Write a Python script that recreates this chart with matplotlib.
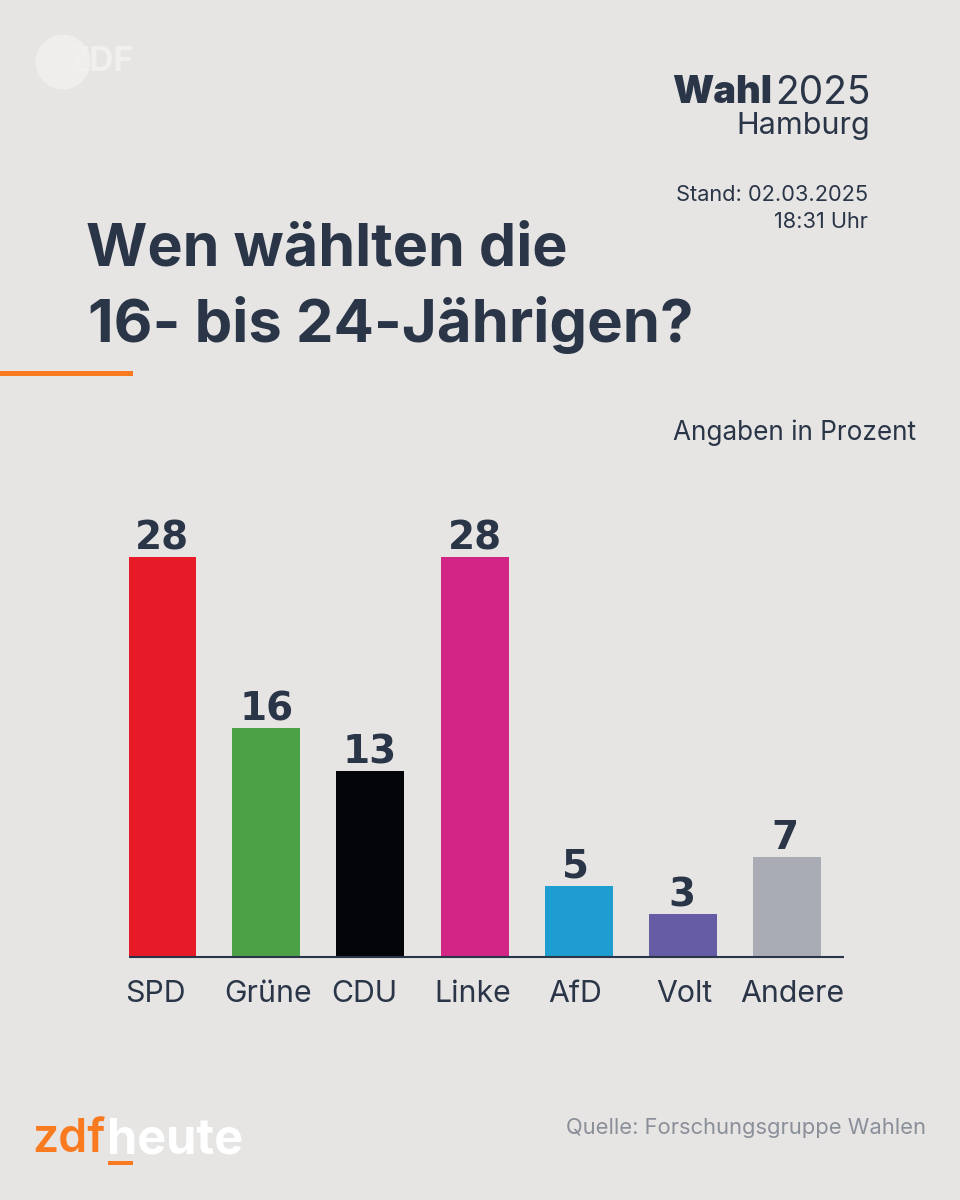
import matplotlib
matplotlib.use("Agg")
import matplotlib.pyplot as plt
from matplotlib.patches import Circle, Rectangle

parties = ["SPD", "Grüne", "CDU", "Linke", "AfD", "Volt", "Andere"]
values = [28, 16, 13, 28, 5, 3, 7]
colors = ["#E71A28", "#4CA147", "#040508", "#D22585", "#1E9DD1", "#655CA5", "#A9ACB4"]
label_centres_px = [155, 268, 364, 473, 575, 684, 792]
value_nudge_px = [0, 0, -1, 0, -3, -1, -2]

BG = "#E6E5E4"
INK = "#2A3547"
ORANGE = "#F97A1F"
GREY = "#8A8F99"
W, H = 960, 1200
plt.rcParams["font.family"] = ["Inter", "DejaVu Sans"]

fig = plt.figure(figsize=(W / 100, H / 100), dpi=100, facecolor=BG)

# pixel overlay
ov = fig.add_axes([0, 0, 1, 1], zorder=0)
ov.set_xlim(0, W)
ov.set_ylim(H, 0)
ov.axis("off")

# bars
SP = 104.17
ax = fig.add_axes([129 / W, (H - 957) / H, 715 / W, 500 / H], zorder=1)
ax.patch.set_alpha(0)
ax.bar(range(len(values)), values, width=68 / SP, color=colors)
ax.set_xlim(-33 / SP, (844 - 162) / SP)
ax.set_ylim(0, 35)
for s in ["top", "left", "right"]:
    ax.spines[s].set_visible(False)
ax.spines["bottom"].set_color(INK)
ax.spines["bottom"].set_linewidth(1.5)
ax.spines["bottom"].set_capstyle("butt")
ax.set_yticks([])
ax.set_xticks([])
for i, v in enumerate(values):
    ax.annotate(str(v), (i, v), xytext=(value_nudge_px[i] * 0.72, 0), textcoords="offset points",
                ha="center", va="bottom", fontsize=28, fontweight="bold", color=INK,
                family=["DejaVu Sans"])
for name, x in zip(parties, label_centres_px):
    ov.text(x, 994, name, ha="center", va="center", fontsize=21.8, color=INK)

# title
ov.text(86, 250, "Wen wählten die", fontsize=42.6, fontweight="bold", color=INK, va="center", ha="left")
ov.text(88, 325, "16- bis 24-Jährigen?", fontsize=43, fontweight="bold", color=INK, va="center", ha="left")
ov.add_patch(Rectangle((0, 371), 133, 5, color=ORANGE, lw=0))

# header right
ov.text(672, 93, "Wahl", fontsize=27.5, fontweight="black", color=INK, va="center", ha="left")
ov.text(870, 93, "2025", fontsize=28, fontweight="normal", color=INK, va="center", ha="right")
ov.text(870, 126, "Hamburg", fontsize=22, color=INK, va="center", ha="right")
ov.text(868, 195, "Stand: 02.03.2025", fontsize=15.7, color=INK, va="center", ha="right")
ov.text(868, 222, "18:31 Uhr", fontsize=15.7, color=INK, va="center", ha="right")
ov.text(916, 433, "Angaben in Prozent", fontsize=18.8, color=INK, va="center", ha="right")
ov.text(926, 1128, "Quelle: Forschungsgruppe Wahlen", fontsize=15.8, color=GREY, va="center", ha="right")

# ZDF logo (top left)
ov.add_patch(Circle((63, 62), 27.5, color="#EFEEED", lw=0))
ov.text(67, 62, "ZDF", fontsize=24, fontweight="bold", color="#F1F0EF", va="center", ha="left")

# zdfheute logo
ov.text(32, 1140, "zdf", fontsize=33.5, fontweight="semibold", color=ORANGE, va="center", ha="left")
ov.text(107, 1140, "heute", fontsize=35, fontweight="bold", color="white", va="center", ha="left")
ov.add_patch(Rectangle((108, 1161), 25, 4, color=ORANGE, lw=0))

fig.savefig("out.png", dpi=100, facecolor=BG)
